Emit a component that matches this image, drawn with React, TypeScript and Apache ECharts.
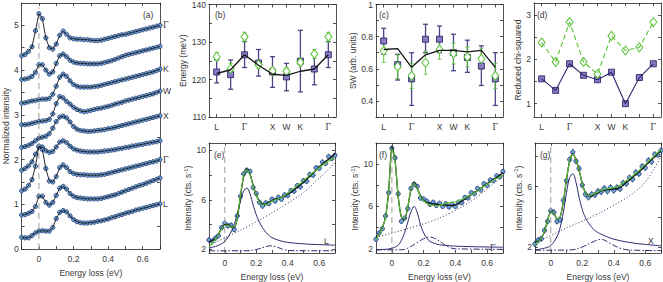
import React, { useEffect, useRef } from 'react';
import * as echarts from 'echarts';

// ---------- shared energy grid (eV) ----------
const X = [-0.1, -0.08, -0.06, -0.04, -0.02, 0, 0.02, 0.04, 0.06, 0.08, 0.1, 0.12, 0.14, 0.16, 0.18, 0.2, 0.22, 0.24, 0.26, 0.28, 0.3, 0.32, 0.34, 0.36, 0.38, 0.4, 0.42, 0.44, 0.46, 0.48, 0.5, 0.52, 0.54, 0.56, 0.58, 0.6, 0.62, 0.64, 0.66, 0.68, 0.7];

// ---------- panel (a): normalized spectra, top to bottom ----------
const a1 = [4.32, 4.35, 4.42, 4.52, 4.88, 5.26, 5.15, 4.72, 4.50, 4.47, 4.58, 4.78, 4.87, 4.80, 4.72, 4.70, 4.69, 4.69, 4.68, 4.68, 4.67, 4.66, 4.66, 4.67, 4.69, 4.71, 4.73, 4.75, 4.77, 4.79, 4.80, 4.82, 4.84, 4.86, 4.88, 4.90, 4.92, 4.94, 4.96, 4.98, 5.00];
const a2 = [3.79, 3.80, 3.82, 3.86, 3.95, 4.12, 4.12, 4.00, 3.91, 3.96, 4.15, 4.32, 4.36, 4.30, 4.22, 4.18, 4.16, 4.15, 4.15, 4.14, 4.14, 4.14, 4.14, 4.15, 4.17, 4.19, 4.21, 4.24, 4.27, 4.30, 4.33, 4.35, 4.37, 4.39, 4.41, 4.43, 4.45, 4.47, 4.49, 4.51, 4.53];
const a3 = [3.26, 3.27, 3.29, 3.31, 3.32, 3.34, 3.35, 3.35, 3.37, 3.46, 3.64, 3.84, 3.91, 3.86, 3.76, 3.68, 3.64, 3.62, 3.62, 3.62, 3.62, 3.63, 3.64, 3.66, 3.68, 3.70, 3.72, 3.74, 3.76, 3.78, 3.80, 3.82, 3.84, 3.86, 3.88, 3.90, 3.92, 3.94, 3.96, 3.99, 4.02];
const a4 = [2.78, 2.78, 2.79, 2.81, 2.83, 2.85, 2.86, 2.87, 2.90, 3.02, 3.25, 3.41, 3.38, 3.30, 3.24, 3.17, 3.12, 3.09, 3.07, 3.08, 3.10, 3.12, 3.14, 3.15, 3.17, 3.19, 3.21, 3.24, 3.26, 3.28, 3.31, 3.33, 3.35, 3.37, 3.39, 3.41, 3.43, 3.45, 3.47, 3.50, 3.53];
const a5 = [2.27, 2.29, 2.32, 2.36, 2.42, 2.48, 2.50, 2.52, 2.58, 2.70, 2.85, 2.95, 2.97, 2.93, 2.84, 2.74, 2.68, 2.65, 2.64, 2.63, 2.63, 2.64, 2.65, 2.66, 2.67, 2.69, 2.70, 2.72, 2.74, 2.76, 2.78, 2.80, 2.82, 2.84, 2.86, 2.88, 2.90, 2.92, 2.94, 2.96, 2.98];
const a6 = [1.76, 1.80, 1.86, 1.95, 2.12, 2.28, 2.28, 2.20, 2.16, 2.18, 2.28, 2.39, 2.42, 2.38, 2.30, 2.24, 2.21, 2.19, 2.18, 2.17, 2.17, 2.17, 2.17, 2.18, 2.19, 2.20, 2.21, 2.22, 2.24, 2.25, 2.27, 2.28, 2.30, 2.31, 2.33, 2.34, 2.36, 2.37, 2.39, 2.40, 2.42];
const a7 = [1.30, 1.34, 1.42, 1.55, 1.85, 2.30, 2.22, 1.80, 1.52, 1.50, 1.62, 1.82, 1.88, 1.82, 1.73, 1.69, 1.67, 1.66, 1.66, 1.65, 1.65, 1.65, 1.65, 1.66, 1.67, 1.69, 1.71, 1.73, 1.75, 1.77, 1.79, 1.81, 1.83, 1.85, 1.87, 1.89, 1.91, 1.93, 1.95, 1.97, 2.00];
const a8 = [0.76, 0.77, 0.80, 0.84, 0.95, 1.18, 1.18, 1.04, 0.98, 1.04, 1.20, 1.36, 1.40, 1.34, 1.24, 1.18, 1.15, 1.14, 1.13, 1.12, 1.12, 1.12, 1.12, 1.13, 1.15, 1.17, 1.19, 1.21, 1.24, 1.27, 1.30, 1.33, 1.36, 1.39, 1.42, 1.44, 1.47, 1.50, 1.53, 1.56, 1.59];
const a9 = [0.26, 0.25, 0.25, 0.30, 0.36, 0.40, 0.41, 0.40, 0.40, 0.48, 0.68, 0.82, 0.86, 0.83, 0.74, 0.66, 0.61, 0.59, 0.58, 0.58, 0.59, 0.60, 0.62, 0.63, 0.65, 0.67, 0.70, 0.72, 0.75, 0.77, 0.80, 0.82, 0.84, 0.87, 0.89, 0.91, 0.93, 0.95, 0.97, 0.99, 1.01];
const aCurves = [a1, a2, a3, a4, a5, a6, a7, a8, a9];
const aEndLabels = ['Γ', '', 'K', 'W', 'X', '', 'Γ', '', 'L'];

// ---------- panels (b)-(d): along the momentum path ----------
const catPos = [1, 2, 3, 4, 5, 6, 7, 8, 9];
const catLabels = ['L', '', 'Γ', '', 'X', 'W', 'K', '', 'Γ'];

const bE = [122.0, 121.3, 126.6, 124.4, 122.0, 120.7, 124.9, 122.8, 126.6];
const bELo = [119.1, 117.4, 123.2, 120.9, 117.9, 117.0, 116.7, 118.6, 123.2];
const bEHi = [125.3, 125.2, 130.1, 128.0, 126.1, 124.3, 133.1, 126.8, 130.1];
const bG = [126.1, 122.9, 131.4, 124.0, 122.3, 122.2, 124.6, 126.8, 131.4];
const bGLo = [125.0, 121.4, 130.2, 122.9, 121.3, 121.2, 123.6, 125.6, 130.2];
const bGHi = [127.2, 124.3, 132.6, 125.1, 123.2, 123.2, 125.6, 128.0, 132.6];
const bFit = [121.6, 122.6, 126.6, 123.8, 121.4, 121.1, 122.2, 122.8, 126.6];

const cE = [0.773, 0.625, 0.537, 0.784, 0.784, 0.700, 0.670, 0.617, 0.537];
const cELo = [0.691, 0.530, 0.372, 0.700, 0.700, 0.588, 0.578, 0.496, 0.372];
const cEHi = [0.852, 0.690, 0.700, 0.877, 0.866, 0.815, 0.778, 0.743, 0.700];
const cG = [0.712, 0.613, 0.556, 0.638, 0.720, 0.695, 0.674, 0.662, 0.556];
const cGLo = [0.640, 0.540, 0.478, 0.566, 0.660, 0.630, 0.612, 0.596, 0.478];
const cGHi = [0.784, 0.686, 0.634, 0.710, 0.780, 0.760, 0.736, 0.728, 0.634];
const cFit = [0.720, 0.725, 0.609, 0.687, 0.715, 0.715, 0.705, 0.715, 0.609];

const dE = [1.56, 1.30, 1.90, 1.64, 1.54, 1.71, 1.00, 1.59, 1.90];
const dG = [2.38, 1.94, 2.84, 1.94, 1.67, 2.53, 2.20, 2.27, 2.84];

// ---------- panels (e)-(g): fits ----------
const eData = [2.75, 2.65, 2.9, 3.1, 3.75, 4.1, 3.9, 3.95, 3.6, 4.7, 6.3, 8.1, 8.4, 8.3, 7.0, 6.5, 5.8, 5.5, 5.75, 5.7, 6.05, 5.9, 6.2, 6.05, 6.4, 6.35, 6.75, 6.7, 7.15, 7.05, 7.55, 7.5, 8.05, 8.0, 8.6, 8.55, 9.05, 8.95, 9.5, 9.35, 9.6];
const eFit = [2.6, 2.7, 2.85, 3.2, 3.7, 4.0, 4.0, 3.85, 3.75, 4.5, 6.3, 7.9, 8.5, 8.1, 7.2, 6.4, 5.9, 5.65, 5.65, 5.8, 5.95, 6.05, 6.12, 6.2, 6.3, 6.45, 6.62, 6.8, 7.0, 7.2, 7.42, 7.65, 7.9, 8.15, 8.4, 8.65, 8.9, 9.1, 9.3, 9.5, 9.75];
const eAlt = [2.2, 2.45, 2.8, 3.2, 3.65, 3.95, 3.95, 3.8, 3.8, 4.6, 6.4, 8.0, 8.45, 8.05, 7.15, 6.35, 5.85, 5.6, 5.6, 5.75, 5.9, 6.0, 6.1, 6.2, 6.35, 6.55, 6.75, 6.95, 7.15, 7.35, 7.55, 7.78, 8.0, 8.2, 8.4, 8.6, 8.8, 8.98, 9.15, 9.3, 9.45];
const ePeak = [[-0.1, 2.1], [-0.04, 2.32], [0, 2.65], [0.04, 3.4], [0.06, 4.0], [0.08, 4.9], [0.1, 5.9], [0.12, 6.7], [0.14, 6.95], [0.16, 6.5], [0.18, 5.6], [0.2, 4.8], [0.22, 4.2], [0.24, 3.75], [0.27, 3.25], [0.3, 2.95], [0.35, 2.7], [0.4, 2.56], [0.5, 2.44], [0.6, 2.38], [0.7, 2.33]];
const eBg = [[-0.1, 2.3], [0.1, 3.55], [0.3, 4.95], [0.5, 6.6], [0.7, 9.0]];
const eBump = [[-0.1, 1.88], [0.14, 1.88], [0.2, 1.98], [0.25, 2.17], [0.29, 2.28], [0.33, 2.18], [0.38, 1.96], [0.44, 1.89], [0.7, 1.88]];

const fData = [2.9, 3.5, 3.9, 5.1, 7.3, 11.5, 10.6, 7.2, 4.6, 4.9, 5.8, 7.7, 8.1, 7.9, 6.8, 6.7, 6.5, 6.2, 6.4, 6.1, 6.3, 6.0, 6.25, 5.95, 6.2, 6.0, 6.4, 6.35, 6.85, 6.8, 7.3, 7.2, 7.7, 7.55, 8.15, 8.0, 8.5, 8.45, 8.9, 8.8, 9.3];
const fFit = [3.0, 3.4, 4.0, 5.0, 7.5, 11.7, 10.4, 6.9, 5.0, 4.8, 5.9, 7.6, 8.3, 7.7, 7.0, 6.6, 6.4, 6.3, 6.25, 6.2, 6.18, 6.15, 6.12, 6.1, 6.1, 6.15, 6.3, 6.5, 6.7, 6.9, 7.1, 7.3, 7.5, 7.7, 7.95, 8.15, 8.35, 8.55, 8.75, 8.95, 9.2];
const fAlt = [2.9, 3.35, 4.0, 5.0, 7.4, 11.5, 10.3, 6.9, 5.0, 4.85, 5.95, 7.6, 8.2, 7.65, 6.95, 6.55, 6.3, 6.15, 6.1, 6.05, 6.1, 6.2, 6.3, 6.35, 6.4, 6.45, 6.55, 6.65, 6.8, 6.95, 7.1, 7.3, 7.5, 7.7, 7.9, 8.1, 8.3, 8.5, 8.65, 8.8, 8.95];
const fPeak = [[-0.1, 1.9], [-0.04, 1.95], [0, 2.05], [0.04, 2.35], [0.06, 2.8], [0.08, 3.5], [0.1, 4.5], [0.12, 5.5], [0.14, 6.0], [0.16, 5.4], [0.18, 4.3], [0.2, 3.5], [0.22, 3.0], [0.24, 2.7], [0.27, 2.5], [0.3, 2.38], [0.35, 2.3], [0.4, 2.25], [0.5, 2.2], [0.6, 2.17], [0.7, 2.15]];
const fBg = [[-0.1, 3.1], [0.1, 3.9], [0.3, 4.9], [0.5, 6.5], [0.7, 8.9]];
const fBump = [[-0.1, 1.9], [0.06, 1.9], [0.1, 2.05], [0.16, 2.6], [0.2, 2.95], [0.24, 3.1], [0.28, 2.9], [0.32, 2.5], [0.36, 2.15], [0.4, 2.0], [0.7, 1.95]];

const gData = [2.2, 2.45, 2.55, 3.1, 3.7, 4.4, 4.3, 3.7, 3.8, 5.1, 6.4, 7.8, 8.3, 7.7, 7.2, 6.1, 5.5, 5.3, 5.5, 5.45, 5.7, 5.65, 5.9, 5.7, 5.95, 5.75, 5.95, 5.85, 6.25, 6.2, 6.6, 6.5, 6.95, 6.85, 7.35, 7.25, 7.75, 7.65, 8.15, 8.1, 8.4];
const gFit = [2.3, 2.4, 2.6, 3.0, 3.8, 4.35, 4.25, 3.85, 4.0, 5.0, 6.5, 7.7, 8.2, 7.8, 7.1, 6.2, 5.6, 5.38, 5.4, 5.5, 5.62, 5.72, 5.78, 5.8, 5.82, 5.85, 5.88, 5.95, 6.1, 6.28, 6.45, 6.62, 6.8, 6.98, 7.18, 7.38, 7.58, 7.78, 7.98, 8.2, 8.4];
const gAlt = [2.15, 2.35, 2.6, 3.0, 3.75, 4.3, 4.25, 3.85, 4.0, 5.0, 6.5, 7.7, 8.15, 7.8, 7.1, 6.2, 5.6, 5.4, 5.45, 5.55, 5.65, 5.75, 5.82, 5.86, 5.9, 5.95, 6.0, 6.1, 6.25, 6.4, 6.55, 6.72, 6.9, 7.08, 7.28, 7.48, 7.68, 7.88, 8.08, 8.28, 8.45];
const gPeak = [[-0.1, 1.8], [-0.04, 1.92], [0, 2.1], [0.04, 2.7], [0.06, 3.3], [0.08, 4.3], [0.1, 5.6], [0.12, 6.6], [0.14, 6.85], [0.16, 6.3], [0.18, 5.3], [0.2, 4.5], [0.22, 3.95], [0.25, 3.45], [0.28, 3.1], [0.32, 2.85], [0.36, 2.67], [0.4, 2.52], [0.5, 2.3], [0.6, 2.17], [0.7, 2.08]];
const gBg = [[-0.1, 2.25], [0.1, 3.25], [0.3, 4.2], [0.5, 5.4], [0.6, 6.3], [0.7, 8.0]];
const gBump = [[-0.1, 1.78], [0.12, 1.8], [0.2, 2.0], [0.26, 2.3], [0.32, 2.5], [0.38, 2.22], [0.44, 1.92], [0.5, 1.8], [0.7, 1.76]];

const errHalf = 0.22;

// ---------- styles ----------
const AX = '#262626';
const TXT = '#383838';
const FONT = 'Liberation Sans';
const FS = 8.5;
const DATA_FILL = '#70a2d8';
const DATA_EDGE = '#1d3a6e';
const PURPLE_FILL = '#8a7cc4';
const PURPLE_EDGE = '#2e2768';
const PURPLE_BAR = '#4a4585';
const GREEN = '#58c236';
const NAVY = '#2c2a6e';
const RICH = { g: { fontFamily: 'Liberation Serif', fontSize: 9.5, color: TXT } };

const catFmt = (v: number) => {
  const s = catLabels[Math.round(v) - 1] || '';
  return s === 'Γ' ? '{g|Γ}' : s;
};

type AxCfg = { g: number; min: number; max: number; ticks: number[]; labels: number[]; fmt?: any; name?: string; gap?: number };

function xPair(c: AxCfg) {
  const line = { show: true, onZero: false, lineStyle: { color: AX, width: 0.8 } };
  const tick = { show: true, inside: true, length: 3, customValues: c.ticks, lineStyle: { color: AX, width: 0.8 } };
  return [
    {
      type: 'value', gridIndex: c.g, position: 'bottom', min: c.min, max: c.max,
      axisLine: line, axisTick: tick,
      axisLabel: { show: true, customValues: c.labels, formatter: c.fmt, margin: 5, color: TXT, fontSize: FS, fontFamily: FONT, rich: RICH },
      splitLine: { show: false },
      name: c.name || '', nameLocation: 'middle', nameGap: c.gap || 15,
      nameTextStyle: { color: TXT, fontSize: FS, fontFamily: FONT },
    },
    {
      type: 'value', gridIndex: c.g, position: 'top', min: c.min, max: c.max,
      axisLine: line, axisTick: tick, axisLabel: { show: false }, splitLine: { show: false },
    },
  ];
}

function yPair(c: AxCfg) {
  const line = { show: true, onZero: false, lineStyle: { color: AX, width: 0.8 } };
  const tick = { show: true, inside: true, length: 3, customValues: c.ticks, lineStyle: { color: AX, width: 0.8 } };
  return [
    {
      type: 'value', gridIndex: c.g, position: 'left', min: c.min, max: c.max,
      axisLine: line, axisTick: tick,
      axisLabel: { show: true, customValues: c.labels, formatter: c.fmt, margin: 3, color: TXT, fontSize: FS, fontFamily: FONT },
      splitLine: { show: false },
      name: c.name || '', nameLocation: 'middle', nameGap: c.gap || 10,
      nameTextStyle: {
        color: TXT, fontSize: FS, fontFamily: FONT,
        rich: { sup: { fontSize: 6, color: TXT, fontFamily: FONT, padding: [0, 0, 5, 0] } },
      },
    },
    {
      type: 'value', gridIndex: c.g, position: 'right', min: c.min, max: c.max,
      axisLine: line, axisTick: tick, axisLabel: { show: false }, splitLine: { show: false },
    },
  ];
}

const eTicks = [-0.1, 0, 0.1, 0.2, 0.3, 0.4, 0.5, 0.6, 0.7];
const eLabels = [0, 0.2, 0.4, 0.6];
const INT_NAME = 'Intensity (cts. s{sup|-1})';

const grids = [
  { left: 17, top: 3, width: 143, height: 254 },
  { left: 209, top: 3, width: 127, height: 114 },
  { left: 376, top: 3, width: 127, height: 114 },
  { left: 534, top: 3, width: 127, height: 114 },
  { left: 209, top: 143, width: 126, height: 114 },
  { left: 376, top: 143, width: 127, height: 114 },
  { left: 535, top: 143, width: 126, height: 114 },
];

const xAxes = [
  ...xPair({ g: 0, min: -0.1, max: 0.7, ticks: eTicks, labels: eLabels, name: 'Energy loss (eV)', gap: 19 }),
  ...xPair({ g: 1, min: 0.45, max: 9.55, ticks: catPos, labels: [1, 3, 5, 6, 7, 9], fmt: catFmt }),
  ...xPair({ g: 2, min: 0.45, max: 9.55, ticks: catPos, labels: [1, 3, 5, 6, 7, 9], fmt: catFmt }),
  ...xPair({ g: 3, min: 0.45, max: 9.55, ticks: catPos, labels: [1, 3, 5, 6, 7, 9], fmt: catFmt }),
  ...xPair({ g: 4, min: -0.1, max: 0.7, ticks: eTicks, labels: eLabels, name: 'Energy loss (eV)', gap: 19 }),
  ...xPair({ g: 5, min: -0.1, max: 0.7, ticks: eTicks, labels: eLabels, name: 'Energy loss (eV)', gap: 19 }),
  ...xPair({ g: 6, min: -0.1, max: 0.7, ticks: eTicks, labels: eLabels, name: 'Energy loss (eV)', gap: 19 }),
];

const yAxes = [
  ...yPair({ g: 0, min: 0, max: 5.5, ticks: [0, 0.5, 1, 1.5, 2, 2.5, 3, 3.5, 4, 4.5, 5], labels: [0, 1, 2, 3, 4, 5], name: 'Normalized intensity', gap: 9 }),
  ...yPair({ g: 1, min: 110, max: 140, ticks: [110, 115, 120, 125, 130, 135, 140], labels: [110, 120, 130, 140], name: 'Energy (meV)', gap: 16 }),
  ...yPair({ g: 2, min: 0.3, max: 1.0, ticks: [0.3, 0.4, 0.5, 0.6, 0.7, 0.8, 0.9, 1.0], labels: [0.4, 0.6, 0.8, 1], name: 'SW (arb. units)', gap: 16 }),
  ...yPair({ g: 3, min: 0.7, max: 3.27, ticks: [1, 1.5, 2, 2.5, 3], labels: [1, 2, 3], name: 'Reduced chi-squared', gap: 8 }),
  ...yPair({ g: 4, min: 1.7, max: 10.6, ticks: [2, 4, 6, 8, 10], labels: [2, 6, 10], name: INT_NAME, gap: 15 }),
  ...yPair({ g: 5, min: 1.6, max: 12, ticks: [2, 4, 6, 8, 10], labels: [2, 6, 10], name: INT_NAME, gap: 13 }),
  ...yPair({ g: 6, min: 1.6, max: 8.9, ticks: [2, 4, 6, 8], labels: [2, 6], name: INT_NAME, gap: 8 }),
];

// ---------- series helpers ----------
const ax = (g: number) => ({ xAxisIndex: 2 * g, yAxisIndex: 2 * g });
const pairs = (xs: number[], ys: number[]) => xs.map((x, i) => [x, ys[i]]);

function lineS(g: number, data: any[], color: string, width: number, type: any = 'solid', extra: any = {}) {
  return {
    type: 'line', ...ax(g), data, showSymbol: false, symbol: 'none', silent: true,
    lineStyle: { color, width, type }, ...extra,
  };
}
function scatterS(g: number, data: any[], symbol: string, size: any, fill: string, edge: string, bw = 0.8) {
  return {
    type: 'scatter', ...ax(g), data, symbol, symbolSize: size, silent: true,
    itemStyle: { color: fill, borderColor: edge, borderWidth: bw, opacity: 1 },
  };
}
function errS(g: number, rows: number[][], color: string, width: number, cap: number) {
  return {
    type: 'custom', ...ax(g), data: rows, silent: true, encode: { x: 0, y: [1, 2] },
    renderItem: (_p: any, api: any) => {
      const x = api.value(0);
      const a = api.coord([x, api.value(1)]);
      const b = api.coord([x, api.value(2)]);
      const st = { stroke: color, lineWidth: width };
      const children: any[] = [{ type: 'line', shape: { x1: a[0], y1: a[1], x2: b[0], y2: b[1] }, style: st }];
      if (cap > 0) {
        children.push({ type: 'line', shape: { x1: a[0] - cap, y1: a[1], x2: a[0] + cap, y2: a[1] }, style: st });
        children.push({ type: 'line', shape: { x1: b[0] - cap, y1: b[1], x2: b[0] + cap, y2: b[1] }, style: st });
      }
      return { type: 'group', children };
    },
  };
}
const zeroLine = (g: number, lo: number, hi: number) =>
  lineS(g, [[0, lo], [0, hi]], '#a6a6a6', 1.1, [6, 4]);

const series: any[] = [];

// (a)
series.push(zeroLine(0, 0, 5.4));
aCurves.forEach((c, i) => {
  series.push(scatterS(0, pairs(X, c), 'circle', 4.3, DATA_FILL, DATA_EDGE, 0.8));
  const lab = aEndLabels[i];
  series.push(lineS(0, pairs(X, c), '#151515', 0.9, 'solid', lab ? {
    endLabel: {
      show: true, distance: 3, formatter: lab === 'Γ' ? '{g|Γ}' : lab,
      color: TXT, fontSize: FS, fontFamily: FONT, rich: RICH,
    },
  } : {}));
});

// (b)
series.push(errS(1, catPos.map((p, i) => [p, bELo[i], bEHi[i]]), PURPLE_BAR, 1.3, 2.5));
series.push(lineS(1, pairs(catPos, bFit), '#151515', 1.3));
series.push(scatterS(1, pairs(catPos, bE), 'rect', 6, PURPLE_FILL, PURPLE_EDGE, 0.9));
series.push(errS(1, catPos.map((p, i) => [p, bGLo[i], bGHi[i]]), GREEN, 0.9, 2));
series.push(scatterS(1, pairs(catPos, bG), 'diamond', [7, 9], '#ffffff', GREEN, 1));

// (c)
series.push(errS(2, catPos.map((p, i) => [p, cELo[i], cEHi[i]]), PURPLE_BAR, 1.3, 2.5));
series.push(lineS(2, pairs(catPos, cFit), '#151515', 1.3));
series.push(scatterS(2, pairs(catPos, cE), 'rect', 6, PURPLE_FILL, PURPLE_EDGE, 0.9));
series.push(errS(2, catPos.map((p, i) => [p, cGLo[i], cGHi[i]]), GREEN, 0.9, 2));
series.push(scatterS(2, pairs(catPos, cG), 'diamond', [7, 9], '#ffffff', GREEN, 1));

// (d)
series.push(lineS(3, pairs(catPos, dE), NAVY, 1.1));
series.push(scatterS(3, pairs(catPos, dE), 'rect', 6, PURPLE_FILL, PURPLE_EDGE, 0.9));
series.push(lineS(3, pairs(catPos, dG), GREEN, 1.1, [5, 3]));
series.push(scatterS(3, pairs(catPos, dG), 'diamond', [7, 9], '#ffffff', GREEN, 1));

// (e)-(g)
const fitPanels = [
  { g: 4, data: eData, fit: eFit, alt: eAlt, peak: ePeak, bg: eBg, bump: eBump, lo: 1.7, hi: 10.6 },
  { g: 5, data: fData, fit: fFit, alt: fAlt, peak: fPeak, bg: fBg, bump: fBump, lo: 1.6, hi: 12 },
  { g: 6, data: gData, fit: gFit, alt: gAlt, peak: gPeak, bg: gBg, bump: gBump, lo: 1.6, hi: 8.9 },
];
fitPanels.forEach((p) => {
  series.push(zeroLine(p.g, p.lo, p.hi));
  series.push(lineS(p.g, p.bg, NAVY, 1, [1, 2.2], { smooth: 0.3 }));
  series.push(lineS(p.g, p.bump, NAVY, 1, [6, 2, 1.5, 2], { smooth: 0.4 }));
  series.push(lineS(p.g, p.peak, NAVY, 1, 'solid', { smooth: 0.4 }));
  series.push(errS(p.g, X.map((x, i) => [x, p.data[i] - errHalf, p.data[i] + errHalf]), DATA_EDGE, 0.7, 0));
  series.push(scatterS(p.g, pairs(X, p.data), 'circle', 4.3, DATA_FILL, DATA_EDGE, 0.8));
  series.push(lineS(p.g, pairs(X, p.fit), '#151515', 1.3, 'solid', { smooth: 0.2 }));
  series.push(lineS(p.g, pairs(X, p.alt), GREEN, 1.1, 'solid', { smooth: 0.2 }));
});

const txt = (left: number, top: number, text: string, serif = false) => ({
  type: 'text', left, top, silent: true,
  style: { text, fill: TXT, font: `${serif ? 9.5 : FS}px ${serif ? 'Liberation Serif' : FONT}` },
});

const graphic = [
  txt(143, 10, '(a)'),
  txt(215, 10, '(b)'),
  txt(379, 10, '(c)'),
  txt(537, 10, '(d)'),
  txt(214, 150, '(e)'),
  txt(379, 150, '(f)'),
  txt(540, 150, '(g)'),
  txt(324, 236, 'L'),
  txt(490, 243, 'Γ', true),
  txt(648, 236, 'X'),
];

const option = {
  animation: false,
  backgroundColor: '#ffffff',
  textStyle: { fontFamily: FONT },
  grid: grids,
  xAxis: xAxes,
  yAxis: yAxes,
  series,
  graphic,
};

export default function App() {
  const ref = useRef<HTMLDivElement>(null);
  useEffect(() => {
    document.body.style.margin = '0';
    const chart = echarts.init(ref.current as HTMLDivElement, null, { renderer: 'svg' });
    chart.setOption(option as any);
    return () => chart.dispose();
  }, []);
  return <div ref={ref} style={{ width: 663, height: 282 }} />;
}
